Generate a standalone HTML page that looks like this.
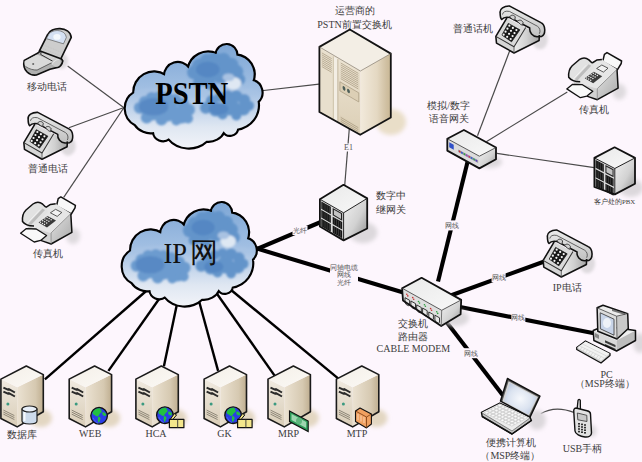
<!DOCTYPE html><html><head><meta charset="utf-8"><style>html,body{margin:0;padding:0;background:#fdf6fd;}svg{display:block}text{font-family:"Liberation Serif",serif;}</style></head><body>
<svg width="642" height="462" viewBox="0 0 642 462">
<defs>
<linearGradient id="cg" x1="0" y1="0" x2="0" y2="1"><stop offset="0" stop-color="#7ea7d6"/><stop offset="0.45" stop-color="#a3c0e3"/><stop offset="0.8" stop-color="#dfe7f2"/><stop offset="1" stop-color="#f1f3f8"/></linearGradient>
<radialGradient id="blob" cx="0.5" cy="0.5" r="0.5"><stop offset="0" stop-color="#4f86c2"/><stop offset="0.7" stop-color="#5b90c8"/><stop offset="1" stop-color="#6f9dd0" stop-opacity="0"/></radialGradient>
<filter id="sh" x="-50%" y="-50%" width="200%" height="200%"><feGaussianBlur stdDeviation="2"/></filter><filter id="shz" x="-50%" y="-50%" width="200%" height="200%"><feGaussianBlur stdDeviation="14"/></filter>
<filter id="blur1" x="-20%" y="-20%" width="140%" height="140%"><feGaussianBlur stdDeviation="1.2"/></filter>
<clipPath id="cclip"><path d="M132.5 92.0 A19.9 19.9 0 0 1 163.5 74.4 A13.1 13.1 0 0 1 187.5 67.2 A20.2 20.2 0 0 1 216.0 52.5 A10.0 10.0 0 0 1 236.0 53.6 A19.4 19.4 0 0 1 252.3 79.6 A12.2 12.2 0 0 1 257.5 100.4 A24.1 24.1 0 0 1 236.8 128.3 A7.4 7.4 0 0 1 223.1 130.9 A17.0 17.0 0 0 1 205.6 140.5 A26.4 26.4 0 0 1 167.4 138.0 A9.2 9.2 0 0 1 152.4 131.6 A18.3 18.3 0 0 1 133.6 123.8 A18.3 18.3 0 0 1 132.5 92.0Z"/></clipPath>
</defs>
<rect width="642" height="462" fill="#fdf6fd"/>
<line x1="67.6" y1="66.0" x2="124.0" y2="107.8" stroke="#4a4a4a" stroke-width="1.2"/>
<line x1="68.9" y1="127.7" x2="124.0" y2="107.5" stroke="#4a4a4a" stroke-width="1.2"/>
<line x1="63.7" y1="197.3" x2="124.0" y2="107.5" stroke="#4a4a4a" stroke-width="1.2"/>
<line x1="255.0" y1="91.5" x2="319.0" y2="84.2" stroke="#4a4a4a" stroke-width="1.2"/>
<line x1="350.0" y1="120.0" x2="344.5" y2="188.0" stroke="#4a4a4a" stroke-width="1.2"/>
<line x1="477.5" y1="135.8" x2="510.0" y2="50.0" stroke="#4a4a4a" stroke-width="1.2"/>
<line x1="486.3" y1="141.7" x2="567.3" y2="92.0" stroke="#4a4a4a" stroke-width="1.2"/>
<line x1="497.0" y1="153.4" x2="596.0" y2="167.8" stroke="#4a4a4a" stroke-width="1.2"/>
<line x1="250.0" y1="252.0" x2="322.0" y2="221.5" stroke="#000" stroke-width="4.1"/>
<line x1="250.0" y1="246.5" x2="405.0" y2="293.0" stroke="#000" stroke-width="4.1"/>
<line x1="438.0" y1="281.6" x2="468.5" y2="158.0" stroke="#000" stroke-width="4.1"/>
<line x1="450.0" y1="295.7" x2="545.0" y2="261.2" stroke="#000" stroke-width="4.1"/>
<line x1="455.0" y1="306.0" x2="594.0" y2="333.3" stroke="#000" stroke-width="4.1"/>
<line x1="445.0" y1="320.0" x2="503.0" y2="395.5" stroke="#000" stroke-width="4.1"/>
<line x1="147.3" y1="290.0" x2="44.9" y2="379.3" stroke="#000" stroke-width="2.4"/>
<line x1="165.4" y1="290.0" x2="108.4" y2="370.9" stroke="#000" stroke-width="2.4"/>
<line x1="179.9" y1="290.0" x2="163.9" y2="366.2" stroke="#000" stroke-width="2.4"/>
<line x1="196.0" y1="290.0" x2="218.1" y2="370.9" stroke="#000" stroke-width="2.4"/>
<line x1="214.3" y1="290.0" x2="274.6" y2="375.6" stroke="#000" stroke-width="2.4"/>
<line x1="231.1" y1="290.0" x2="338.1" y2="378.4" stroke="#000" stroke-width="2.4"/>
<path d="M540.7 413.8 Q555 405 574.5 412.6" fill="none" stroke="#4a4a4a" stroke-width="1.2"/>
<g transform="translate(0.0 0.0) translate(124 0) scale(1.000 1) translate(-124 0) translate(262 147) scale(0.9855 0.9806) translate(-262 -147)"><path d="M132.5 92.0 A19.9 19.9 0 0 1 163.5 74.4 A13.1 13.1 0 0 1 187.5 67.2 A20.2 20.2 0 0 1 216.0 52.5 A10.0 10.0 0 0 1 236.0 53.6 A19.4 19.4 0 0 1 252.3 79.6 A12.2 12.2 0 0 1 257.5 100.4 A24.1 24.1 0 0 1 236.8 128.3 A7.4 7.4 0 0 1 223.1 130.9 A17.0 17.0 0 0 1 205.6 140.5 A26.4 26.4 0 0 1 167.4 138.0 A9.2 9.2 0 0 1 152.4 131.6 A18.3 18.3 0 0 1 133.6 123.8 A18.3 18.3 0 0 1 132.5 92.0Z" fill="#000" stroke="#000" stroke-width="4.4" stroke-linejoin="round"/><path d="M132.5 92.0 A19.9 19.9 0 0 1 163.5 74.4 A13.1 13.1 0 0 1 187.5 67.2 A20.2 20.2 0 0 1 216.0 52.5 A10.0 10.0 0 0 1 236.0 53.6 A19.4 19.4 0 0 1 252.3 79.6 A12.2 12.2 0 0 1 257.5 100.4 A24.1 24.1 0 0 1 236.8 128.3 A7.4 7.4 0 0 1 223.1 130.9 A17.0 17.0 0 0 1 205.6 140.5 A26.4 26.4 0 0 1 167.4 138.0 A9.2 9.2 0 0 1 152.4 131.6 A18.3 18.3 0 0 1 133.6 123.8 A18.3 18.3 0 0 1 132.5 92.0Z" fill="url(#cg)"/><g clip-path="url(#cclip)" filter="url(#blur1)"><g fill="#a8c3e4" opacity="0.7"><ellipse cx="195" cy="91" rx="65" ry="5"/></g><g fill="#6c9bcf"><circle cx="138" cy="107" r="6"/><circle cx="143" cy="101" r="6"/><circle cx="150" cy="97" r="6"/><circle cx="158" cy="96" r="6"/><circle cx="166" cy="97" r="6"/><circle cx="174" cy="99" r="6"/><circle cx="182" cy="103" r="6"/><circle cx="188" cy="109" r="6"/><circle cx="150" cy="110" r="10"/><circle cx="166" cy="110" r="11"/><circle cx="180" cy="114" r="9"/><circle cx="145" cy="117" r="6"/><circle cx="160" cy="119" r="6"/><circle cx="175" cy="120" r="5"/><circle cx="187" cy="118" r="5"/></g><ellipse cx="152" cy="106" rx="15" ry="9" fill="#5889c4"/><g fill="#6394ca"><circle cx="193" cy="71" r="7"/><circle cx="198" cy="64" r="7"/><circle cx="206" cy="59" r="7"/><circle cx="214" cy="57" r="7"/><circle cx="223" cy="58" r="7"/><circle cx="231" cy="63" r="7"/><circle cx="236" cy="70" r="7"/><circle cx="239" cy="78" r="6"/><circle cx="205" cy="75" r="10"/><circle cx="220" cy="72" r="10"/><circle cx="197" cy="81" r="5"/><circle cx="210" cy="84" r="5"/></g><ellipse cx="207" cy="68" rx="12" ry="8" fill="#5587c3"/><ellipse cx="233" cy="82" rx="8" ry="6.5" fill="#dfe8f3"/><ellipse cx="228" cy="76" rx="6" ry="4" fill="#a9c2e2"/><g fill="#6394ca"><circle cx="205" cy="107" r="6"/><circle cx="211" cy="100" r="6"/><circle cx="219" cy="96" r="5"/><circle cx="227" cy="94" r="5"/><circle cx="236" cy="95" r="6"/><circle cx="244" cy="99" r="6"/><circle cx="249" cy="105" r="5"/><circle cx="215" cy="109" r="7"/><circle cx="230" cy="106" r="9"/><circle cx="243" cy="108" r="7"/><circle cx="222" cy="114" r="5"/><circle cx="236" cy="115" r="5"/></g><ellipse cx="218" cy="108" rx="10" ry="6" fill="#5587c3"/></g></g>
<g transform="translate(-3.0 158.0) translate(124 0) scale(0.980 1) translate(-124 0) translate(262 147) scale(0.9855 0.9806) translate(-262 -147)"><path d="M132.5 92.0 A19.9 19.9 0 0 1 163.5 74.4 A13.1 13.1 0 0 1 187.5 67.2 A20.2 20.2 0 0 1 216.0 52.5 A10.0 10.0 0 0 1 236.0 53.6 A19.4 19.4 0 0 1 252.3 79.6 A12.2 12.2 0 0 1 257.5 100.4 A24.1 24.1 0 0 1 236.8 128.3 A7.4 7.4 0 0 1 223.1 130.9 A17.0 17.0 0 0 1 205.6 140.5 A26.4 26.4 0 0 1 167.4 138.0 A9.2 9.2 0 0 1 152.4 131.6 A18.3 18.3 0 0 1 133.6 123.8 A18.3 18.3 0 0 1 132.5 92.0Z" fill="#000" stroke="#000" stroke-width="4.4" stroke-linejoin="round"/><path d="M132.5 92.0 A19.9 19.9 0 0 1 163.5 74.4 A13.1 13.1 0 0 1 187.5 67.2 A20.2 20.2 0 0 1 216.0 52.5 A10.0 10.0 0 0 1 236.0 53.6 A19.4 19.4 0 0 1 252.3 79.6 A12.2 12.2 0 0 1 257.5 100.4 A24.1 24.1 0 0 1 236.8 128.3 A7.4 7.4 0 0 1 223.1 130.9 A17.0 17.0 0 0 1 205.6 140.5 A26.4 26.4 0 0 1 167.4 138.0 A9.2 9.2 0 0 1 152.4 131.6 A18.3 18.3 0 0 1 133.6 123.8 A18.3 18.3 0 0 1 132.5 92.0Z" fill="url(#cg)"/><g clip-path="url(#cclip)" filter="url(#blur1)"><g fill="#a8c3e4" opacity="0.7"><ellipse cx="195" cy="91" rx="65" ry="5"/></g><g fill="#6c9bcf"><circle cx="138" cy="107" r="6"/><circle cx="143" cy="101" r="6"/><circle cx="150" cy="97" r="6"/><circle cx="158" cy="96" r="6"/><circle cx="166" cy="97" r="6"/><circle cx="174" cy="99" r="6"/><circle cx="182" cy="103" r="6"/><circle cx="188" cy="109" r="6"/><circle cx="150" cy="110" r="10"/><circle cx="166" cy="110" r="11"/><circle cx="180" cy="114" r="9"/><circle cx="145" cy="117" r="6"/><circle cx="160" cy="119" r="6"/><circle cx="175" cy="120" r="5"/><circle cx="187" cy="118" r="5"/></g><ellipse cx="152" cy="106" rx="15" ry="9" fill="#5889c4"/><g fill="#6394ca"><circle cx="193" cy="71" r="7"/><circle cx="198" cy="64" r="7"/><circle cx="206" cy="59" r="7"/><circle cx="214" cy="57" r="7"/><circle cx="223" cy="58" r="7"/><circle cx="231" cy="63" r="7"/><circle cx="236" cy="70" r="7"/><circle cx="239" cy="78" r="6"/><circle cx="205" cy="75" r="10"/><circle cx="220" cy="72" r="10"/><circle cx="197" cy="81" r="5"/><circle cx="210" cy="84" r="5"/></g><ellipse cx="207" cy="68" rx="12" ry="8" fill="#5587c3"/><ellipse cx="233" cy="82" rx="8" ry="6.5" fill="#dfe8f3"/><ellipse cx="228" cy="76" rx="6" ry="4" fill="#a9c2e2"/><g fill="#6394ca"><circle cx="205" cy="107" r="6"/><circle cx="211" cy="100" r="6"/><circle cx="219" cy="96" r="5"/><circle cx="227" cy="94" r="5"/><circle cx="236" cy="95" r="6"/><circle cx="244" cy="99" r="6"/><circle cx="249" cy="105" r="5"/><circle cx="215" cy="109" r="7"/><circle cx="230" cy="106" r="9"/><circle cx="243" cy="108" r="7"/><circle cx="222" cy="114" r="5"/><circle cx="236" cy="115" r="5"/></g><ellipse cx="218" cy="108" rx="10" ry="6" fill="#5587c3"/></g></g>
<text x="155.2" y="104" font-size="31" font-weight="bold" textLength="73" lengthAdjust="spacingAndGlyphs" fill="#000">PSTN</text>
<text x="163.5" y="263" font-size="30" textLength="23.5" lengthAdjust="spacingAndGlyphs" fill="#111">IP</text>
<text x="190.2" y="262" font-size="28" fill="#111">网</text>
<defs><linearGradient id="srvside" x1="0" y1="0" x2="1" y2="0"><stop offset="0" stop-color="#ebe2d2"/><stop offset="0.7" stop-color="#d6c9b1"/><stop offset="1" stop-color="#bfae90"/></linearGradient><linearGradient id="srvfront" x1="0" y1="0" x2="0" y2="1"><stop offset="0" stop-color="#f0eae0"/><stop offset="1" stop-color="#d9cdb7"/></linearGradient><linearGradient id="srvtop" x1="0" y1="0" x2="1" y2="1"><stop offset="0" stop-color="#f4efe8"/><stop offset="1" stop-color="#fbf9f5"/></linearGradient></defs>
<g transform="translate(0.9 379.1)"><ellipse cx="40" cy="39" rx="11" ry="9" fill="#e3d7c2" filter="url(#sh)"/><polygon points="16.3,8.1 42.4,-4.5 42.4,32.6 16.3,47.8" fill="url(#srvside)"/><polygon points="0.0,0.0 16.3,8.1 16.3,47.8 0.0,39.4" fill="url(#srvfront)"/><polygon points="0.0,0.0 25.4,-13.1 42.4,-4.5 16.3,8.1" fill="url(#srvtop)"/><polygon points="0.0,0.0 25.4,-13.1 42.4,-4.5 42.4,32.6 16.3,47.8 0.0,39.4" fill="none" stroke="#1a1a1a" stroke-width="1.6" stroke-linejoin="round"/><path d="M2.5 8.6 L7 10.6 L8 10 L14 13.4 M2.5 12.6 L7 14.6 L8 14 L14 17.4" fill="none" stroke="#2a2a2a" stroke-width="2"/><circle cx="7" cy="25" r="1.5" fill="#3a9a80"/><path d="M2.5 31 L13.5 36.5 M2.5 33 L13.5 38.5 M2.5 35 L13.5 40.5" stroke="#6a6458" stroke-width="0.7"/></g>
<g transform="translate(69.2 379.1)"><ellipse cx="40" cy="39" rx="11" ry="9" fill="#e3d7c2" filter="url(#sh)"/><polygon points="16.3,8.1 42.4,-4.5 42.4,32.6 16.3,47.8" fill="url(#srvside)"/><polygon points="0.0,0.0 16.3,8.1 16.3,47.8 0.0,39.4" fill="url(#srvfront)"/><polygon points="0.0,0.0 25.4,-13.1 42.4,-4.5 16.3,8.1" fill="url(#srvtop)"/><polygon points="0.0,0.0 25.4,-13.1 42.4,-4.5 42.4,32.6 16.3,47.8 0.0,39.4" fill="none" stroke="#1a1a1a" stroke-width="1.6" stroke-linejoin="round"/><path d="M2.5 8.6 L7 10.6 L8 10 L14 13.4 M2.5 12.6 L7 14.6 L8 14 L14 17.4" fill="none" stroke="#2a2a2a" stroke-width="2"/><circle cx="7" cy="25" r="1.5" fill="#3a9a80"/><path d="M2.5 31 L13.5 36.5 M2.5 33 L13.5 38.5 M2.5 35 L13.5 40.5" stroke="#6a6458" stroke-width="0.7"/></g>
<g transform="translate(135.9 379.1)"><ellipse cx="40" cy="39" rx="11" ry="9" fill="#e3d7c2" filter="url(#sh)"/><polygon points="16.3,8.1 42.4,-4.5 42.4,32.6 16.3,47.8" fill="url(#srvside)"/><polygon points="0.0,0.0 16.3,8.1 16.3,47.8 0.0,39.4" fill="url(#srvfront)"/><polygon points="0.0,0.0 25.4,-13.1 42.4,-4.5 16.3,8.1" fill="url(#srvtop)"/><polygon points="0.0,0.0 25.4,-13.1 42.4,-4.5 42.4,32.6 16.3,47.8 0.0,39.4" fill="none" stroke="#1a1a1a" stroke-width="1.6" stroke-linejoin="round"/><path d="M2.5 8.6 L7 10.6 L8 10 L14 13.4 M2.5 12.6 L7 14.6 L8 14 L14 17.4" fill="none" stroke="#2a2a2a" stroke-width="2"/><circle cx="7" cy="25" r="1.5" fill="#3a9a80"/><path d="M2.5 31 L13.5 36.5 M2.5 33 L13.5 38.5 M2.5 35 L13.5 40.5" stroke="#6a6458" stroke-width="0.7"/></g>
<g transform="translate(204.1 379.1)"><ellipse cx="40" cy="39" rx="11" ry="9" fill="#e3d7c2" filter="url(#sh)"/><polygon points="16.3,8.1 42.4,-4.5 42.4,32.6 16.3,47.8" fill="url(#srvside)"/><polygon points="0.0,0.0 16.3,8.1 16.3,47.8 0.0,39.4" fill="url(#srvfront)"/><polygon points="0.0,0.0 25.4,-13.1 42.4,-4.5 16.3,8.1" fill="url(#srvtop)"/><polygon points="0.0,0.0 25.4,-13.1 42.4,-4.5 42.4,32.6 16.3,47.8 0.0,39.4" fill="none" stroke="#1a1a1a" stroke-width="1.6" stroke-linejoin="round"/><path d="M2.5 8.6 L7 10.6 L8 10 L14 13.4 M2.5 12.6 L7 14.6 L8 14 L14 17.4" fill="none" stroke="#2a2a2a" stroke-width="2"/><circle cx="7" cy="25" r="1.5" fill="#3a9a80"/><path d="M2.5 31 L13.5 36.5 M2.5 33 L13.5 38.5 M2.5 35 L13.5 40.5" stroke="#6a6458" stroke-width="0.7"/></g>
<g transform="translate(268.0 379.1)"><ellipse cx="40" cy="39" rx="11" ry="9" fill="#e3d7c2" filter="url(#sh)"/><polygon points="16.3,8.1 42.4,-4.5 42.4,32.6 16.3,47.8" fill="url(#srvside)"/><polygon points="0.0,0.0 16.3,8.1 16.3,47.8 0.0,39.4" fill="url(#srvfront)"/><polygon points="0.0,0.0 25.4,-13.1 42.4,-4.5 16.3,8.1" fill="url(#srvtop)"/><polygon points="0.0,0.0 25.4,-13.1 42.4,-4.5 42.4,32.6 16.3,47.8 0.0,39.4" fill="none" stroke="#1a1a1a" stroke-width="1.6" stroke-linejoin="round"/><path d="M2.5 8.6 L7 10.6 L8 10 L14 13.4 M2.5 12.6 L7 14.6 L8 14 L14 17.4" fill="none" stroke="#2a2a2a" stroke-width="2"/><circle cx="7" cy="25" r="1.5" fill="#3a9a80"/><path d="M2.5 31 L13.5 36.5 M2.5 33 L13.5 38.5 M2.5 35 L13.5 40.5" stroke="#6a6458" stroke-width="0.7"/></g>
<g transform="translate(336.4 379.1)"><ellipse cx="40" cy="39" rx="11" ry="9" fill="#e3d7c2" filter="url(#sh)"/><polygon points="16.3,8.1 42.4,-4.5 42.4,32.6 16.3,47.8" fill="url(#srvside)"/><polygon points="0.0,0.0 16.3,8.1 16.3,47.8 0.0,39.4" fill="url(#srvfront)"/><polygon points="0.0,0.0 25.4,-13.1 42.4,-4.5 16.3,8.1" fill="url(#srvtop)"/><polygon points="0.0,0.0 25.4,-13.1 42.4,-4.5 42.4,32.6 16.3,47.8 0.0,39.4" fill="none" stroke="#1a1a1a" stroke-width="1.6" stroke-linejoin="round"/><path d="M2.5 8.6 L7 10.6 L8 10 L14 13.4 M2.5 12.6 L7 14.6 L8 14 L14 17.4" fill="none" stroke="#2a2a2a" stroke-width="2"/><circle cx="7" cy="25" r="1.5" fill="#3a9a80"/><path d="M2.5 31 L13.5 36.5 M2.5 33 L13.5 38.5 M2.5 35 L13.5 40.5" stroke="#6a6458" stroke-width="0.7"/></g>
<defs><linearGradient id="cabside" x1="0" y1="0" x2="1" y2="0"><stop offset="0" stop-color="#f2eadc"/><stop offset="0.55" stop-color="#e4d8c2"/><stop offset="0.85" stop-color="#d0c0a2"/><stop offset="1" stop-color="#c9b794"/></linearGradient><linearGradient id="cabfront" x1="0" y1="0" x2="0" y2="1"><stop offset="0" stop-color="#eee6d6"/><stop offset="1" stop-color="#dccfb6"/></linearGradient><linearGradient id="gside" x1="0" y1="0" x2="1" y2="1"><stop offset="0" stop-color="#f2f2f2"/><stop offset="0.55" stop-color="#d2d2d2"/><stop offset="1" stop-color="#8e8e8e"/></linearGradient><linearGradient id="gtop" x1="0" y1="0" x2="1" y2="1"><stop offset="0" stop-color="#e9e9e9"/><stop offset="1" stop-color="#f8f8f8"/></linearGradient><linearGradient id="gfront" x1="0" y1="0" x2="0" y2="1"><stop offset="0" stop-color="#e4e4e4"/><stop offset="1" stop-color="#c8c8c8"/></linearGradient></defs>
<ellipse cx="391" cy="122" rx="15" ry="13" fill="#e9dec8" filter="url(#sh)"/>
<polygon points="360.4,71.0 390.8,53.6 390.8,117.5 360.2,134.8" fill="url(#cabside)"/>
<polygon points="319.4,46.9 360.4,71.0 360.2,134.8 319.4,112.0" fill="url(#cabfront)"/>
<polygon points="319.4,46.9 349.8,29.5 390.8,53.6 360.4,71.0" fill="#f3eee5"/>
<g transform="matrix(0.4100 0.2410 0.0000 0.6510 319.40 46.90)"><rect x="2" y="2" width="32" height="96" fill="#e8dfcd"/><line x1="6" y1="7.0" x2="30" y2="7.0" stroke="#ad9f86" stroke-width="0.8" vector-effect="non-scaling-stroke"/><line x1="6" y1="10.0" x2="30" y2="10.0" stroke="#ad9f86" stroke-width="0.8" vector-effect="non-scaling-stroke"/><line x1="6" y1="13.0" x2="30" y2="13.0" stroke="#ad9f86" stroke-width="0.8" vector-effect="non-scaling-stroke"/><line x1="6" y1="16.0" x2="30" y2="16.0" stroke="#ad9f86" stroke-width="0.8" vector-effect="non-scaling-stroke"/><line x1="6" y1="19.0" x2="30" y2="19.0" stroke="#ad9f86" stroke-width="0.8" vector-effect="non-scaling-stroke"/><line x1="6" y1="22.0" x2="30" y2="22.0" stroke="#ad9f86" stroke-width="0.8" vector-effect="non-scaling-stroke"/><line x1="6" y1="25.0" x2="30" y2="25.0" stroke="#ad9f86" stroke-width="0.8" vector-effect="non-scaling-stroke"/><line x1="6" y1="28.0" x2="30" y2="28.0" stroke="#ad9f86" stroke-width="0.8" vector-effect="non-scaling-stroke"/><rect x="34" y="2" width="11" height="96" fill="#f3eee4"/><line x1="45" y1="2" x2="45" y2="98" stroke="#b9ab90" stroke-width="0.8" vector-effect="non-scaling-stroke"/><line x1="34" y1="2" x2="34" y2="98" stroke="#c4b79c" stroke-width="0.8" vector-effect="non-scaling-stroke"/><line x1="52" y1="5.5" x2="95" y2="5.5" stroke="#ad9f86" stroke-width="0.8" vector-effect="non-scaling-stroke"/><line x1="52" y1="8.5" x2="95" y2="8.5" stroke="#ad9f86" stroke-width="0.8" vector-effect="non-scaling-stroke"/><line x1="52" y1="11.5" x2="95" y2="11.5" stroke="#ad9f86" stroke-width="0.8" vector-effect="non-scaling-stroke"/><line x1="52" y1="14.5" x2="95" y2="14.5" stroke="#ad9f86" stroke-width="0.8" vector-effect="non-scaling-stroke"/><line x1="52" y1="17.5" x2="95" y2="17.5" stroke="#ad9f86" stroke-width="0.8" vector-effect="non-scaling-stroke"/><line x1="52" y1="20.5" x2="95" y2="20.5" stroke="#ad9f86" stroke-width="0.8" vector-effect="non-scaling-stroke"/><line x1="52" y1="23.5" x2="95" y2="23.5" stroke="#ad9f86" stroke-width="0.8" vector-effect="non-scaling-stroke"/><line x1="52" y1="26.5" x2="95" y2="26.5" stroke="#ad9f86" stroke-width="0.8" vector-effect="non-scaling-stroke"/><line x1="52" y1="29.5" x2="95" y2="29.5" stroke="#ad9f86" stroke-width="0.8" vector-effect="non-scaling-stroke"/><rect x="50" y="35" width="46" height="14" fill="#dccfb5" stroke="#a89a80" stroke-width="0.7" vector-effect="non-scaling-stroke"/><ellipse cx="60" cy="41.5" rx="3.5" ry="3.2" fill="#4d5e58"/><ellipse cx="71" cy="41.5" rx="3.5" ry="3.2" fill="#4d5e58"/><rect x="50" y="86" width="46" height="12" fill="#ddd1b9"/><line x1="52" y1="89.0" x2="95" y2="89.0" stroke="#a39479" stroke-width="0.7" vector-effect="non-scaling-stroke"/><line x1="52" y1="92.0" x2="95" y2="92.0" stroke="#a39479" stroke-width="0.7" vector-effect="non-scaling-stroke"/><line x1="52" y1="95.0" x2="95" y2="95.0" stroke="#a39479" stroke-width="0.7" vector-effect="non-scaling-stroke"/></g>
<polygon points="319.4,46.9 349.8,29.5 390.8,53.6 390.8,117.5 360.2,134.8 319.4,112.0" fill="none" stroke="#141414" stroke-width="1.8" stroke-linejoin="round"/>
<polyline points="319.4,46.9 360.4,71.0 390.8,53.6" fill="none" stroke="#6e6554" stroke-width="0.6"/>
<ellipse cx="363.2" cy="232.5" rx="14.2" ry="10.5" fill="#dcd8dc" filter="url(#sh)"/>
<polygon points="343.6,212.8 367.2,198.4 367.2,228.5 343.6,240.4" fill="url(#gside)"/>
<polygon points="319.9,199.2 343.6,212.8 343.6,240.4 319.9,226.5" fill="#d9d9d9"/>
<polygon points="319.9,199.2 343.5,184.8 367.2,198.4 343.6,212.8" fill="url(#gtop)"/>
<g transform="matrix(0.2370 0.1360 0.0000 0.2730 319.90 199.20)"><rect x="6" y="5" width="40" height="27" fill="#141414"/><rect x="11" y="7" width="3" height="23" fill="#484848"/><rect x="20" y="7" width="3" height="23" fill="#484848"/><rect x="29" y="7" width="3" height="23" fill="#484848"/><rect x="38" y="7" width="3" height="23" fill="#484848"/><rect x="6" y="37" width="40" height="27" fill="#141414"/><rect x="11" y="39" width="3" height="23" fill="#484848"/><rect x="20" y="39" width="3" height="23" fill="#484848"/><rect x="29" y="39" width="3" height="23" fill="#484848"/><rect x="38" y="39" width="3" height="23" fill="#484848"/><rect x="6" y="69" width="40" height="27" fill="#141414"/><rect x="11" y="71" width="3" height="23" fill="#484848"/><rect x="20" y="71" width="3" height="23" fill="#484848"/><rect x="29" y="71" width="3" height="23" fill="#484848"/><rect x="38" y="71" width="3" height="23" fill="#484848"/><rect x="54" y="5" width="40" height="27" fill="#202020"/><rect x="59" y="9" width="30" height="19" fill="#c4c4c4"/><rect x="54" y="37" width="40" height="27" fill="#141414"/><rect x="59" y="39" width="3" height="23" fill="#484848"/><rect x="68" y="39" width="3" height="23" fill="#484848"/><rect x="77" y="39" width="3" height="23" fill="#484848"/><rect x="86" y="39" width="3" height="23" fill="#484848"/><rect x="54" y="69" width="40" height="27" fill="#141414"/><rect x="59" y="71" width="3" height="23" fill="#484848"/><rect x="68" y="71" width="3" height="23" fill="#484848"/><rect x="77" y="71" width="3" height="23" fill="#484848"/><rect x="86" y="71" width="3" height="23" fill="#484848"/></g>
<polygon points="319.9,199.2 343.5,184.8 367.2,198.4 367.2,228.5 343.6,240.4 319.9,226.5" fill="none" stroke="#111" stroke-width="1.8" stroke-linejoin="round"/>
<polyline points="319.9,199.2 343.6,212.8 367.2,198.4" fill="none" stroke="#222" stroke-width="1"/>
<line x1="343.6" y1="212.8" x2="343.6" y2="240.4" stroke="#222" stroke-width="1"/>
<ellipse cx="631.0" cy="187.8" rx="12.2" ry="9.1" fill="#dcd8dc" filter="url(#sh)"/>
<polygon points="614.8,168.5 635.0,157.9 635.0,183.8 614.8,194.4" fill="url(#gside)"/>
<polygon points="594.4,157.9 614.8,168.5 614.8,194.4 594.4,187.0" fill="#d9d9d9"/>
<polygon points="594.4,157.9 614.6,147.3 635.0,157.9 614.8,168.5" fill="url(#gtop)"/>
<g transform="matrix(0.2040 0.1060 0.0000 0.2910 594.40 157.90)"><rect x="6" y="5" width="40" height="27" fill="#141414"/><rect x="11" y="7" width="3" height="23" fill="#484848"/><rect x="20" y="7" width="3" height="23" fill="#484848"/><rect x="29" y="7" width="3" height="23" fill="#484848"/><rect x="38" y="7" width="3" height="23" fill="#484848"/><rect x="6" y="37" width="40" height="27" fill="#141414"/><rect x="11" y="39" width="3" height="23" fill="#484848"/><rect x="20" y="39" width="3" height="23" fill="#484848"/><rect x="29" y="39" width="3" height="23" fill="#484848"/><rect x="38" y="39" width="3" height="23" fill="#484848"/><rect x="6" y="69" width="40" height="27" fill="#141414"/><rect x="11" y="71" width="3" height="23" fill="#484848"/><rect x="20" y="71" width="3" height="23" fill="#484848"/><rect x="29" y="71" width="3" height="23" fill="#484848"/><rect x="38" y="71" width="3" height="23" fill="#484848"/><rect x="54" y="5" width="40" height="27" fill="#202020"/><rect x="59" y="9" width="30" height="19" fill="#c4c4c4"/><rect x="54" y="37" width="40" height="27" fill="#141414"/><rect x="59" y="39" width="3" height="23" fill="#484848"/><rect x="68" y="39" width="3" height="23" fill="#484848"/><rect x="77" y="39" width="3" height="23" fill="#484848"/><rect x="86" y="39" width="3" height="23" fill="#484848"/><rect x="54" y="69" width="40" height="27" fill="#141414"/><rect x="59" y="71" width="3" height="23" fill="#484848"/><rect x="68" y="71" width="3" height="23" fill="#484848"/><rect x="77" y="71" width="3" height="23" fill="#484848"/><rect x="86" y="71" width="3" height="23" fill="#484848"/></g>
<polygon points="594.4,157.9 614.6,147.3 635.0,157.9 635.0,183.8 614.8,194.4 594.4,187.0" fill="none" stroke="#111" stroke-width="1.8" stroke-linejoin="round"/>
<polyline points="594.4,157.9 614.8,168.5 635.0,157.9" fill="none" stroke="#222" stroke-width="1"/>
<line x1="614.8" y1="168.5" x2="614.8" y2="194.4" stroke="#222" stroke-width="1"/>
<ellipse cx="490" cy="162" rx="12" ry="6" fill="#dcd8dc" filter="url(#sh)"/>
<polygon points="479.4,156.2 496.0,147.5 496.0,159.3 479.4,168.4" fill="url(#gside)"/>
<polygon points="447.3,138.7 479.4,156.2 479.4,168.4 447.3,150.6" fill="#dcdcdc"/>
<polygon points="447.3,138.7 463.9,130.0 496.0,147.5 479.4,156.2" fill="url(#gtop)"/>
<g transform="matrix(0.3210 0.1750 0.0000 0.1190 447.30 138.70)"><rect x="6" y="22" width="14" height="42" fill="#3050c8"/><rect x="34" y="40" width="62" height="22" fill="#9a9aa8"/><rect x="36" y="44" width="5" height="14" fill="#d23030"/><rect x="43" y="44" width="5" height="14" fill="#3050d0"/><rect x="51" y="44" width="5" height="14" fill="#30a040"/><rect x="58" y="44" width="5" height="14" fill="#a040c0"/><rect x="66" y="44" width="5" height="14" fill="#d03060"/><rect x="73" y="44" width="5" height="14" fill="#3060d0"/><rect x="81" y="44" width="5" height="14" fill="#30a060"/><rect x="88" y="44" width="5" height="14" fill="#6040c0"/></g>
<polygon points="447.3,138.7 463.9,130.0 496.0,147.5 496.0,159.3 479.4,168.4 447.3,150.6" fill="none" stroke="#111" stroke-width="1.8" stroke-linejoin="round"/>
<polyline points="447.3,138.7 479.4,156.2 496.0,147.5" fill="none" stroke="#333" stroke-width="0.8"/>
<ellipse cx="456" cy="318" rx="13" ry="8" fill="#dcd8dc" filter="url(#sh)"/>
<polygon points="441.7,310.3 461.2,299.9 460.6,314.2 441.2,326.0" fill="url(#gside)"/>
<polygon points="402.1,288.2 441.7,310.3 441.2,326.0 403.0,300.5" fill="#dedede"/>
<polygon points="402.1,288.2 421.6,277.8 461.2,299.9 441.7,310.3" fill="url(#gtop)"/>
<path d="M405.0 297.7 l4.6 2.6 l0 4.6 l-1.2 0.8 l-2.2 -1.2 l-1.2 -2 Z" fill="#e8e8e8" stroke="#222" stroke-width="0.9"/>
<circle cx="406.8" cy="294.3" r="0.8" fill="#c83030"/><circle cx="407.8" cy="295.9" r="0.8" fill="#c83030"/>
<path d="M410.9 301.0 l4.6 2.6 l0 4.6 l-1.2 0.8 l-2.2 -1.2 l-1.2 -2 Z" fill="#e8e8e8" stroke="#222" stroke-width="0.9"/>
<circle cx="412.7" cy="297.6" r="0.8" fill="#c83030"/><circle cx="413.7" cy="299.2" r="0.8" fill="#c83030"/>
<path d="M416.7 304.9 l4.6 2.6 l0 4.6 l-1.2 0.8 l-2.2 -1.2 l-1.2 -2 Z" fill="#e8e8e8" stroke="#222" stroke-width="0.9"/>
<circle cx="418.5" cy="301.5" r="0.8" fill="#30a040"/><circle cx="419.5" cy="303.1" r="0.8" fill="#30a040"/>
<path d="M422.6 308.1 l4.6 2.6 l0 4.6 l-1.2 0.8 l-2.2 -1.2 l-1.2 -2 Z" fill="#e8e8e8" stroke="#222" stroke-width="0.9"/>
<circle cx="424.4" cy="304.7" r="0.8" fill="#30a040"/><circle cx="425.4" cy="306.3" r="0.8" fill="#30a040"/>
<path d="M428.8 312.0 l4.6 2.6 l0 4.6 l-1.2 0.8 l-2.2 -1.2 l-1.2 -2 Z" fill="#e8e8e8" stroke="#222" stroke-width="0.9"/>
<circle cx="430.6" cy="308.6" r="0.8" fill="#c83030"/><circle cx="431.6" cy="310.2" r="0.8" fill="#c83030"/>
<path d="M434.9 315.2 l4.6 2.6 l0 4.6 l-1.2 0.8 l-2.2 -1.2 l-1.2 -2 Z" fill="#e8e8e8" stroke="#222" stroke-width="0.9"/>
<circle cx="436.7" cy="311.8" r="0.8" fill="#30a040"/><circle cx="437.7" cy="313.4" r="0.8" fill="#30a040"/>
<polygon points="402.1,288.2 421.6,277.8 461.2,299.9 460.6,314.2 441.2,326.0 403.0,300.5" fill="none" stroke="#111" stroke-width="1.8" stroke-linejoin="round"/>
<polyline points="402.1,288.2 441.7,310.3 461.2,299.9" fill="none" stroke="#333" stroke-width="0.8"/>
<line x1="441.7" y1="310.3" x2="441.2" y2="326.0" stroke="#555" stroke-width="0.8"/>
<defs><linearGradient id="phr" x1="0" y1="0" x2="1" y2="0"><stop offset="0" stop-color="#ececec"/><stop offset="0.5" stop-color="#d0d0d0"/><stop offset="1" stop-color="#a4a4a4"/></linearGradient><linearGradient id="phh" x1="0" y1="0" x2="0" y2="1"><stop offset="0" stop-color="#ececec"/><stop offset="1" stop-color="#c0c0c0"/></linearGradient><g id="deskphone"><ellipse cx="385" cy="315" rx="60" ry="75" fill="#dedade" filter="url(#shz)"/><path d="M185 370 L270 220 L380 275 L378 322 L185 418 Z" fill="url(#phr)"/><path d="M45 290 L185 370 L185 418 L50 342 Z" fill="#d6d6d6"/><path d="M130 148 L275 222 L185 370 L45 290 Z" fill="#d9d9d9"/><path d="M78 110 C72 78 108 55 152 57 L392 184 C428 200 432 272 398 290 L362 293 C328 290 302 262 306 226 L152 145 C122 138 98 150 90 160 C80 150 78 130 78 110 Z" fill="url(#phh)" stroke="#111" stroke-width="12" stroke-linejoin="round"/><path d="M96 122 C100 100 120 92 150 98 L365 212 C385 224 390 252 380 270" fill="none" stroke="#555" stroke-width="7"/><path d="M150 140 C165 120 185 125 195 140 L190 165 L175 160 Z M210 175 C225 158 245 165 255 182 L250 205 L235 198 Z" fill="#d0d0d0" stroke="#333" stroke-width="7" stroke-linejoin="round"/><path d="M141 190 L230 240 L166 332 L92 280 Z" fill="#181818" stroke="#181818" stroke-width="6" stroke-linejoin="round"/><circle cx="149.0" cy="208.0" r="8.5" fill="#f6f6f6"/><circle cx="134.4" cy="231.0" r="8.5" fill="#f6f6f6"/><circle cx="119.8" cy="254.0" r="8.5" fill="#f6f6f6"/><circle cx="105.2" cy="277.0" r="8.5" fill="#f6f6f6"/><circle cx="176.1" cy="224.7" r="8.5" fill="#f6f6f6"/><circle cx="161.5" cy="247.7" r="8.5" fill="#f6f6f6"/><circle cx="146.9" cy="270.7" r="8.5" fill="#f6f6f6"/><circle cx="132.3" cy="293.7" r="8.5" fill="#f6f6f6"/><circle cx="203.2" cy="241.4" r="8.5" fill="#f6f6f6"/><circle cx="188.6" cy="264.4" r="8.5" fill="#f6f6f6"/><circle cx="174.0" cy="287.4" r="8.5" fill="#f6f6f6"/><circle cx="159.4" cy="310.4" r="8.5" fill="#f6f6f6"/><path d="M130 148 L45 290 L50 342 L185 418 L378 322 L380 280" fill="none" stroke="#111" stroke-width="12" stroke-linejoin="round"/><path d="M45 290 L185 370 L275 222" fill="none" stroke="#333" stroke-width="8" stroke-linejoin="round"/><path d="M185 370 L185 418" fill="none" stroke="#444" stroke-width="6"/></g></defs>
<use href="#deskphone" transform="translate(18.0 105.0) scale(0.12987)"/>
<use href="#deskphone" transform="translate(490.0 -1.3) scale(0.12987)"/>
<use href="#deskphone" transform="translate(537.3 222.7) scale(0.12987)"/>
<defs><linearGradient id="faxr" x1="0" y1="0" x2="1" y2="1"><stop offset="0" stop-color="#e2e2e2"/><stop offset="1" stop-color="#a9a9a9"/></linearGradient><g id="fax"><ellipse cx="73" cy="236" rx="7" ry="8" fill="#dedade" filter="url(#sh)"/><path d="M56.5 206 L58.2 198.6 L60.8 196.9 L75.4 205.3 L75 207.8 L71.3 214 Z" fill="#f8f8f8" stroke="#111" stroke-width="1.5" stroke-linejoin="round"/><path d="M70.8 213.6 L71.9 232.4 L51.1 244 L51.1 232.9 Z" fill="url(#faxr)"/><path d="M45.9 207.3 L50.5 204.4 L55.7 203.7 L70.8 213.6 L51.1 232.9 L27 225.8 Z" fill="#e6e6e6"/><path d="M27 225.8 L51.1 232.9 L51.1 244 L31 235 Z" fill="#d2d2d2"/><path d="M22.5 221.5 C22 216 23 213 26 210 L33 204 C36 202 40 202 42.7 204.2 L45.9 207.3 L48 212 L34 226 C29 226 25 225 22.5 221.5 Z" fill="#e2e2e2"/><path d="M28.5 223.5 L42.5 208.5 L45 210 L31 225 Z" fill="#bdbdbd"/><path d="M26 224.5 L40 209.5" stroke="#f2f2f2" stroke-width="1"/><path d="M34 226 C29 226 25 225 22.5 221.5 C22 216 23 213 26 210 L33 204 C36 202 40 202 42.7 204.2 L45.9 207.3" fill="none" stroke="#111" stroke-width="1.5" stroke-linejoin="round"/><path d="M20.6 233.2 L26.4 228.6 L36.2 229 L46.6 235.5 L40.7 240.4 L34.2 242 Z" fill="#f9f9f9" stroke="#111" stroke-width="1.3" stroke-linejoin="round"/><path d="M50.4 212.8 L55.6 209.3 L61.8 212.5 L57.2 216.4 Z" fill="#f2f2f2" stroke="#333" stroke-width="0.8"/><path d="M38.5 222.5 L47.5 216 L56 220.5 L47 227.5 Z" fill="#3a3a3a"/><circle cx="40.5" cy="222.3" r="0.75" fill="#f0f0f0"/><circle cx="42.5" cy="223.4" r="0.75" fill="#f0f0f0"/><circle cx="44.5" cy="224.5" r="0.75" fill="#f0f0f0"/><circle cx="42.7" cy="220.7" r="0.75" fill="#f0f0f0"/><circle cx="44.7" cy="221.8" r="0.75" fill="#f0f0f0"/><circle cx="46.7" cy="222.9" r="0.75" fill="#f0f0f0"/><circle cx="44.9" cy="219.1" r="0.75" fill="#f0f0f0"/><circle cx="46.9" cy="220.2" r="0.75" fill="#f0f0f0"/><circle cx="48.9" cy="221.3" r="0.75" fill="#f0f0f0"/><circle cx="47.1" cy="217.5" r="0.75" fill="#f0f0f0"/><circle cx="49.1" cy="218.6" r="0.75" fill="#f0f0f0"/><circle cx="51.1" cy="219.7" r="0.75" fill="#f0f0f0"/><path d="M45.9 207.3 L50.5 204.4 L55.7 203.7 M70.8 213.6 L71.9 232.4 L51.1 244 L40.7 240.4" fill="none" stroke="#111" stroke-width="1.5" stroke-linejoin="round"/><path d="M51.1 232.9 L70.8 213.6 M51.1 232.9 L51.1 244" fill="none" stroke="#777" stroke-width="0.7"/></g></defs>
<use href="#fax"/>
<use href="#fax" transform="translate(546.2 -144.3)"/>
<g transform="translate(18 22) scale(0.12987)"><ellipse cx="335" cy="300" rx="50" ry="60" fill="#dedade" filter="url(#shz)"/><path d="M48 296 L147 243 L180 216 L330 276 L345 300 C340 330 320 345 313 347 L246 364 L142 408 C110 412 90 405 70 385 C50 365 40 330 48 296 Z" fill="#b0b0b0" stroke="#111" stroke-width="13" stroke-linejoin="round"/><path d="M52 300 L147 250 L275 305 L147 368 C110 370 75 360 57 340 C50 325 48 310 52 300 Z" fill="#dadada"/><path d="M57 342 C90 365 120 370 147 370 L257 315" fill="none" stroke="#333" stroke-width="5"/><circle cx="117" cy="323" r="8" fill="#666"/><path d="M180 216 L328 274 L285 312 L175 250 Z" fill="#d2d2d2" stroke="#222" stroke-width="7" stroke-linejoin="round"/><circle cx="295" cy="312" r="32" fill="#cacaca"/><path d="M263 330 C270 300 300 285 320 290" fill="none" stroke="#f0f0f0" stroke-width="6"/><path d="M165 222 L228 98 C250 35 400 30 410 118 L330 283 Z" fill="#cdcdcd" stroke="#111" stroke-width="13" stroke-linejoin="round"/><path d="M230 108 C250 50 365 50 372 120 L350 168 L218 128 Z" fill="#d4e0f2" stroke="#555" stroke-width="5" stroke-linejoin="round"/><ellipse cx="300" cy="115" rx="28" ry="22" fill="#f4f8fc"/><path d="M205 180 L330 232 M195 205 L320 258" stroke="#bcbcbc" stroke-width="4" stroke-dasharray="8 6"/></g>
<g><ellipse cx="640" cy="343" rx="7" ry="10" fill="#dcd8dc" filter="url(#sh)"/><path d="M593.2 330.5 L604 326 L635.5 330.5 L616.6 340.6 Z" fill="#efefef"/><path d="M593.2 330.5 L616.6 340.6 L616.6 351 L593.9 340.5 Z" fill="#d9d9d9"/><path d="M616.6 340.6 L635.5 330.5 L635.5 340.5 L616.6 351 Z" fill="#bdbdbd"/><path d="M605 340.3 L615.5 345 L615.5 347.2 L605 342.5 Z" fill="#3a3a3a"/><path d="M605 344 L615.5 348.7 L615.5 350.3 L605 345.6 Z" fill="#3a3a3a"/><path d="M595 333 L599 335 L599 339 L595 337 Z" fill="#888"/><path d="M593.2 330.5 L604 326 L635.5 330.5 L635.5 340.5 L616.6 351 L593.9 340.5 Z" fill="none" stroke="#111" stroke-width="1.5" stroke-linejoin="round"/><path d="M603 305.2 L627.7 313.6 L616.6 316.2 L597.1 307.8 Z" fill="#ececec"/><path d="M616.6 316.2 L627.7 313.6 L628.3 328.5 L617 339 Z" fill="#c9c9c9"/><path d="M612 309 L625 313.3 L625 315 L612 311 Z" fill="#777"/><path d="M597.1 307.8 L616.6 316.2 L617 339 L597.8 331.2 Z" fill="#dcdcdc"/><path d="M600.2 312.8 L614 319.2 L614 335.2 L600.4 328.8 Z" fill="#c8d4e8" stroke="#333" stroke-width="0.8"/><ellipse cx="607" cy="323" rx="4" ry="5" fill="#eef2f8"/><path d="M597.1 307.8 L603 305.2 L627.7 313.6 L628.3 328.5 L617 339 L597.8 331.2 Z" fill="none" stroke="#111" stroke-width="1.5" stroke-linejoin="round"/><path d="M597.1 307.8 L616.6 316.2 L617 339 M616.6 316.2 L627.7 313.6" fill="none" stroke="#444" stroke-width="0.8"/><path d="M576.7 347.5 L585.5 341 L610 353.5 L610 355.5 L601 363 L576.7 349.5 Z" fill="#cfcfcf" stroke="#111" stroke-width="1.3" stroke-linejoin="round"/><path d="M577.2 347.6 L585.5 341.4 L609.5 353.6 L601 360.8 Z" fill="#f2f2f2"/><line x1="579.5" y1="345.5" x2="577.2" y2="348.7" stroke="#c0c0c0" stroke-width="0.5"/><line x1="582.2" y1="346.9" x2="579.9" y2="350.1" stroke="#c0c0c0" stroke-width="0.5"/><line x1="584.9" y1="348.3" x2="582.6" y2="351.5" stroke="#c0c0c0" stroke-width="0.5"/><line x1="587.6" y1="349.6" x2="585.3" y2="352.8" stroke="#c0c0c0" stroke-width="0.5"/><line x1="590.3" y1="351.0" x2="588.0" y2="354.2" stroke="#c0c0c0" stroke-width="0.5"/><line x1="593.0" y1="352.4" x2="590.7" y2="355.6" stroke="#c0c0c0" stroke-width="0.5"/><line x1="595.7" y1="353.8" x2="593.4" y2="357.0" stroke="#c0c0c0" stroke-width="0.5"/><line x1="598.4" y1="355.2" x2="596.1" y2="358.4" stroke="#c0c0c0" stroke-width="0.5"/><line x1="601.1" y1="356.5" x2="598.8" y2="359.7" stroke="#c0c0c0" stroke-width="0.5"/><path d="M580 346 L604 358 M582.5 344 L606.5 356" stroke="#c8c8c8" stroke-width="0.5"/></g>
<defs><radialGradient id="lscr" cx="0.5" cy="0.5" r="0.6"><stop offset="0" stop-color="#f6f8fc"/><stop offset="0.6" stop-color="#dbe3f0"/><stop offset="1" stop-color="#b9c6de"/></radialGradient></defs>
<ellipse cx="537" cy="420" rx="9" ry="10" fill="#dcd8dc" filter="url(#sh)"/>
<path d="M481.5 412.3 L499.8 403.1 L530 417.2 L531.4 420.5 L512 434 L482.2 416.5 Z" fill="#c4c4c4" stroke="#111" stroke-width="1.5" stroke-linejoin="round"/>
<path d="M482 412.6 L499.8 403.4 L529.8 417.6 L512 430.8 Z" fill="#ececec"/>
<g transform="matrix(0.3000 0.1450 -0.1780 0.0950 499.80 403.10)"><rect x="4.0" y="6.0" width="8.5" height="15" fill="#fafafa" stroke="#bdbdbd" stroke-width="0.5" vector-effect="non-scaling-stroke"/><rect x="14.5" y="6.0" width="8.5" height="15" fill="#fafafa" stroke="#bdbdbd" stroke-width="0.5" vector-effect="non-scaling-stroke"/><rect x="25.0" y="6.0" width="8.5" height="15" fill="#fafafa" stroke="#bdbdbd" stroke-width="0.5" vector-effect="non-scaling-stroke"/><rect x="35.5" y="6.0" width="8.5" height="15" fill="#fafafa" stroke="#bdbdbd" stroke-width="0.5" vector-effect="non-scaling-stroke"/><rect x="46.0" y="6.0" width="8.5" height="15" fill="#fafafa" stroke="#bdbdbd" stroke-width="0.5" vector-effect="non-scaling-stroke"/><rect x="56.5" y="6.0" width="8.5" height="15" fill="#fafafa" stroke="#bdbdbd" stroke-width="0.5" vector-effect="non-scaling-stroke"/><rect x="67.0" y="6.0" width="8.5" height="15" fill="#fafafa" stroke="#bdbdbd" stroke-width="0.5" vector-effect="non-scaling-stroke"/><rect x="77.5" y="6.0" width="8.5" height="15" fill="#fafafa" stroke="#bdbdbd" stroke-width="0.5" vector-effect="non-scaling-stroke"/><rect x="88.0" y="6.0" width="8.5" height="15" fill="#fafafa" stroke="#bdbdbd" stroke-width="0.5" vector-effect="non-scaling-stroke"/><rect x="4.0" y="24.5" width="8.5" height="15" fill="#fafafa" stroke="#bdbdbd" stroke-width="0.5" vector-effect="non-scaling-stroke"/><rect x="14.5" y="24.5" width="8.5" height="15" fill="#fafafa" stroke="#bdbdbd" stroke-width="0.5" vector-effect="non-scaling-stroke"/><rect x="25.0" y="24.5" width="8.5" height="15" fill="#fafafa" stroke="#bdbdbd" stroke-width="0.5" vector-effect="non-scaling-stroke"/><rect x="35.5" y="24.5" width="8.5" height="15" fill="#fafafa" stroke="#bdbdbd" stroke-width="0.5" vector-effect="non-scaling-stroke"/><rect x="46.0" y="24.5" width="8.5" height="15" fill="#fafafa" stroke="#bdbdbd" stroke-width="0.5" vector-effect="non-scaling-stroke"/><rect x="56.5" y="24.5" width="8.5" height="15" fill="#fafafa" stroke="#bdbdbd" stroke-width="0.5" vector-effect="non-scaling-stroke"/><rect x="67.0" y="24.5" width="8.5" height="15" fill="#fafafa" stroke="#bdbdbd" stroke-width="0.5" vector-effect="non-scaling-stroke"/><rect x="77.5" y="24.5" width="8.5" height="15" fill="#fafafa" stroke="#bdbdbd" stroke-width="0.5" vector-effect="non-scaling-stroke"/><rect x="88.0" y="24.5" width="8.5" height="15" fill="#fafafa" stroke="#bdbdbd" stroke-width="0.5" vector-effect="non-scaling-stroke"/><rect x="4.0" y="43.0" width="8.5" height="15" fill="#fafafa" stroke="#bdbdbd" stroke-width="0.5" vector-effect="non-scaling-stroke"/><rect x="14.5" y="43.0" width="8.5" height="15" fill="#fafafa" stroke="#bdbdbd" stroke-width="0.5" vector-effect="non-scaling-stroke"/><rect x="25.0" y="43.0" width="8.5" height="15" fill="#fafafa" stroke="#bdbdbd" stroke-width="0.5" vector-effect="non-scaling-stroke"/><rect x="35.5" y="43.0" width="8.5" height="15" fill="#fafafa" stroke="#bdbdbd" stroke-width="0.5" vector-effect="non-scaling-stroke"/><rect x="46.0" y="43.0" width="8.5" height="15" fill="#fafafa" stroke="#bdbdbd" stroke-width="0.5" vector-effect="non-scaling-stroke"/><rect x="56.5" y="43.0" width="8.5" height="15" fill="#fafafa" stroke="#bdbdbd" stroke-width="0.5" vector-effect="non-scaling-stroke"/><rect x="67.0" y="43.0" width="8.5" height="15" fill="#fafafa" stroke="#bdbdbd" stroke-width="0.5" vector-effect="non-scaling-stroke"/><rect x="77.5" y="43.0" width="8.5" height="15" fill="#fafafa" stroke="#bdbdbd" stroke-width="0.5" vector-effect="non-scaling-stroke"/><rect x="88.0" y="43.0" width="8.5" height="15" fill="#fafafa" stroke="#bdbdbd" stroke-width="0.5" vector-effect="non-scaling-stroke"/><rect x="4.0" y="61.5" width="8.5" height="15" fill="#fafafa" stroke="#bdbdbd" stroke-width="0.5" vector-effect="non-scaling-stroke"/><rect x="14.5" y="61.5" width="8.5" height="15" fill="#fafafa" stroke="#bdbdbd" stroke-width="0.5" vector-effect="non-scaling-stroke"/><rect x="25.0" y="61.5" width="8.5" height="15" fill="#fafafa" stroke="#bdbdbd" stroke-width="0.5" vector-effect="non-scaling-stroke"/><rect x="35.5" y="61.5" width="8.5" height="15" fill="#fafafa" stroke="#bdbdbd" stroke-width="0.5" vector-effect="non-scaling-stroke"/><rect x="46.0" y="61.5" width="8.5" height="15" fill="#fafafa" stroke="#bdbdbd" stroke-width="0.5" vector-effect="non-scaling-stroke"/><rect x="56.5" y="61.5" width="8.5" height="15" fill="#fafafa" stroke="#bdbdbd" stroke-width="0.5" vector-effect="non-scaling-stroke"/><rect x="67.0" y="61.5" width="8.5" height="15" fill="#fafafa" stroke="#bdbdbd" stroke-width="0.5" vector-effect="non-scaling-stroke"/><rect x="77.5" y="61.5" width="8.5" height="15" fill="#fafafa" stroke="#bdbdbd" stroke-width="0.5" vector-effect="non-scaling-stroke"/><rect x="88.0" y="61.5" width="8.5" height="15" fill="#fafafa" stroke="#bdbdbd" stroke-width="0.5" vector-effect="non-scaling-stroke"/><rect x="4.0" y="80.0" width="8.5" height="15" fill="#fafafa" stroke="#bdbdbd" stroke-width="0.5" vector-effect="non-scaling-stroke"/><rect x="14.5" y="80.0" width="8.5" height="15" fill="#fafafa" stroke="#bdbdbd" stroke-width="0.5" vector-effect="non-scaling-stroke"/><rect x="25.0" y="80.0" width="8.5" height="15" fill="#fafafa" stroke="#bdbdbd" stroke-width="0.5" vector-effect="non-scaling-stroke"/><rect x="35.5" y="80.0" width="8.5" height="15" fill="#fafafa" stroke="#bdbdbd" stroke-width="0.5" vector-effect="non-scaling-stroke"/><rect x="46.0" y="80.0" width="8.5" height="15" fill="#fafafa" stroke="#bdbdbd" stroke-width="0.5" vector-effect="non-scaling-stroke"/><rect x="56.5" y="80.0" width="8.5" height="15" fill="#fafafa" stroke="#bdbdbd" stroke-width="0.5" vector-effect="non-scaling-stroke"/><rect x="67.0" y="80.0" width="8.5" height="15" fill="#fafafa" stroke="#bdbdbd" stroke-width="0.5" vector-effect="non-scaling-stroke"/><rect x="77.5" y="80.0" width="8.5" height="15" fill="#fafafa" stroke="#bdbdbd" stroke-width="0.5" vector-effect="non-scaling-stroke"/><rect x="88.0" y="80.0" width="8.5" height="15" fill="#fafafa" stroke="#bdbdbd" stroke-width="0.5" vector-effect="non-scaling-stroke"/></g>
<path d="M482.2 416.5 L512 434 L531.4 420.5" fill="none" stroke="#111" stroke-width="1.3" stroke-linejoin="round"/>
<path d="M482 413 L512 431 L530 418" fill="none" stroke="#666" stroke-width="0.7"/>
<path d="M507.5 378.5 L539.9 396.1 L530 417.2 L500.5 401 Z" fill="#5a5a5a" stroke="#111" stroke-width="1.5" stroke-linejoin="round"/>
<path d="M508.6 381.2 L538 397 L529 415.4 L502.4 401.2 Z" fill="#d6d6d6"/>
<path d="M509.8 383 L536.6 397.6 L528.4 414.6 L504 401.2 Z" fill="url(#lscr)"/>
<g><ellipse cx="592" cy="431" rx="4.5" ry="6" fill="#dcd8dc" filter="url(#sh)"/><path d="M577.2 408 L578 400.5 C578.3 399 580 399 580.3 400.5 L580.4 409" fill="#ddd" stroke="#111" stroke-width="1.3"/><path d="M576 408 C574 408 573.5 410 573.8 412 L575 431 C575.2 434 580 436.5 585 437 C588.5 437.3 591.5 436 591.5 433 L590.5 414 C590.5 412 589 411.3 587 410.8 Z" fill="#e2e2e2" stroke="#111" stroke-width="1.4" stroke-linejoin="round"/><path d="M577.3 413 L586.8 415.3 L587 421.5 L577.8 419.8 Z" fill="#c9c9c9" stroke="#333" stroke-width="0.8"/><rect x="578.0" y="423.0" width="2" height="1.6" fill="#333"/><rect x="578.0" y="425.6" width="2" height="1.6" fill="#333"/><rect x="578.0" y="428.2" width="2" height="1.6" fill="#333"/><rect x="578.0" y="430.8" width="2" height="1.6" fill="#333"/><rect x="581.0" y="423.6" width="2" height="1.6" fill="#333"/><rect x="581.0" y="426.2" width="2" height="1.6" fill="#333"/><rect x="581.0" y="428.8" width="2" height="1.6" fill="#333"/><rect x="581.0" y="431.4" width="2" height="1.6" fill="#333"/><rect x="584.0" y="424.2" width="2" height="1.6" fill="#333"/><rect x="584.0" y="426.8" width="2" height="1.6" fill="#333"/><rect x="584.0" y="429.4" width="2" height="1.6" fill="#333"/><rect x="584.0" y="432.0" width="2" height="1.6" fill="#333"/></g>
<g>
<path d="M22 409 L22 421 C22 425 37 425 37 421 L37 409 Z" fill="#cddbec" stroke="#222" stroke-width="1.2"/><ellipse cx="29.5" cy="409" rx="7.5" ry="3" fill="#e8eff8" stroke="#222" stroke-width="1.2"/><path d="M24.5 412 L24.5 421" stroke="#f6f9fc" stroke-width="2"/>
<g transform="translate(99.1 415.8)"><circle r="8.3" fill="#2a3ee6" stroke="#111" stroke-width="1.3"/><path d="M-6.5 -3.5 C-5 -6.5 -2 -7.8 1 -7.5 C2 -6 3 -5 2.5 -3.5 C1 -2.5 0 -1 -1 0.5 C-2 1 -3.5 0.5 -4 -0.5 C-5 -1 -6.5 -1 -6.5 -3.5 Z" fill="#22c040"/><path d="M3.5 -3.5 C5 -4 7 -2.5 7.2 -1 C6.5 0.5 5 0.8 4 -0.5 C3 -1.5 3 -2.5 3.5 -3.5 Z" fill="#22c040"/><path d="M-1 1 C0 0.5 1.5 1.5 1.5 3 C1 4.5 0.5 6 -0.5 7 C-1.2 5.5 -1.5 3.5 -1 1 Z" fill="#22c040"/><path d="M-6 2 C-5 4.5 -3 6.5 -1 7.5" fill="none" stroke="#5a70ff" stroke-width="1" opacity="0.7"/></g>
<g transform="translate(164.9 415.2)"><circle r="8.3" fill="#2a3ee6" stroke="#111" stroke-width="1.3"/><path d="M-6.5 -3.5 C-5 -6.5 -2 -7.8 1 -7.5 C2 -6 3 -5 2.5 -3.5 C1 -2.5 0 -1 -1 0.5 C-2 1 -3.5 0.5 -4 -0.5 C-5 -1 -6.5 -1 -6.5 -3.5 Z" fill="#22c040"/><path d="M3.5 -3.5 C5 -4 7 -2.5 7.2 -1 C6.5 0.5 5 0.8 4 -0.5 C3 -1.5 3 -2.5 3.5 -3.5 Z" fill="#22c040"/><path d="M-1 1 C0 0.5 1.5 1.5 1.5 3 C1 4.5 0.5 6 -0.5 7 C-1.2 5.5 -1.5 3.5 -1 1 Z" fill="#22c040"/><path d="M-6 2 C-5 4.5 -3 6.5 -1 7.5" fill="none" stroke="#5a70ff" stroke-width="1" opacity="0.7"/></g><path d="M169.4 419.4 l14.5 0 l0 8.3 l-14.5 0 Z" fill="#f4e78c" stroke="#111" stroke-width="1.2" stroke-linejoin="round"/><path d="M177.7 419.4 l0 8.3" stroke="#333" stroke-width="0.9"/><path d="M170.4 419.1 l4 -5.5 l2.2 1.3 l-3.6 4.4 Z" fill="#f4e78c" stroke="#111" stroke-width="1" stroke-linejoin="round"/>
<g transform="translate(233.1 415.2)"><circle r="8.3" fill="#2a3ee6" stroke="#111" stroke-width="1.3"/><path d="M-6.5 -3.5 C-5 -6.5 -2 -7.8 1 -7.5 C2 -6 3 -5 2.5 -3.5 C1 -2.5 0 -1 -1 0.5 C-2 1 -3.5 0.5 -4 -0.5 C-5 -1 -6.5 -1 -6.5 -3.5 Z" fill="#22c040"/><path d="M3.5 -3.5 C5 -4 7 -2.5 7.2 -1 C6.5 0.5 5 0.8 4 -0.5 C3 -1.5 3 -2.5 3.5 -3.5 Z" fill="#22c040"/><path d="M-1 1 C0 0.5 1.5 1.5 1.5 3 C1 4.5 0.5 6 -0.5 7 C-1.2 5.5 -1.5 3.5 -1 1 Z" fill="#22c040"/><path d="M-6 2 C-5 4.5 -3 6.5 -1 7.5" fill="none" stroke="#5a70ff" stroke-width="1" opacity="0.7"/></g><path d="M237.6 419.4 l14.5 0 l0 8.3 l-14.5 0 Z" fill="#f4e78c" stroke="#111" stroke-width="1.2" stroke-linejoin="round"/><path d="M245.9 419.4 l0 8.3" stroke="#333" stroke-width="0.9"/><path d="M238.6 419.1 l4 -5.5 l2.2 1.3 l-3.6 4.4 Z" fill="#f4e78c" stroke="#111" stroke-width="1" stroke-linejoin="round"/>
<path d="M289.5 411 L308.2 421 L308.2 431.6 L289.5 421.6 Z" fill="#2f9e5a" stroke="#111" stroke-width="1.1"/><path d="M291.5 414 L306.2 422 L306.2 428 L291.5 420 Z" fill="#9fd6b0"/><ellipse cx="299" cy="421" rx="3" ry="3.2" fill="#5fb67e"/>
<path d="M355.5 411 L360 408 L371.4 414 L371.4 424 L366.5 427.9 L355.5 421.5 Z" fill="#f0a060" stroke="#111" stroke-width="1.1" stroke-linejoin="round"/><path d="M355.5 411 L366.5 417 L371.4 414 M366.5 417 L366.5 427.9" fill="none" stroke="#7a3a10" stroke-width="0.8"/><path d="M358 414 L358 420 M361 415.5 L361 421.5 M364 417 L364 423" stroke="#fbe0c8" stroke-width="0.8"/>
</g>
<text x="47.0" y="89.5" font-size="10.0" text-anchor="middle" fill="#3c3c3c" >移动电话</text>
<text x="48.0" y="172.0" font-size="10.0" text-anchor="middle" fill="#3c3c3c" >普通电话</text>
<text x="47.7" y="257.0" font-size="10.0" text-anchor="middle" fill="#3c3c3c" >传真机</text>
<text x="354.5" y="14.0" font-size="10.0" text-anchor="middle" fill="#3c3c3c" >运营商的</text>
<text x="354.5" y="27.5" font-size="10.0" text-anchor="middle" fill="#3c3c3c" >PSTN前置交换机</text>
<text x="472.6" y="32.0" font-size="10.0" text-anchor="middle" fill="#3c3c3c" >普通话机</text>
<text x="448.7" y="109.0" font-size="10.0" text-anchor="middle" fill="#3c3c3c" >模拟/数字</text>
<text x="449.2" y="122.0" font-size="10.0" text-anchor="middle" fill="#3c3c3c" >语音网关</text>
<text x="594.3" y="113.0" font-size="10.0" text-anchor="middle" fill="#3c3c3c" >传真机</text>
<text x="567.2" y="290.5" font-size="10.0" text-anchor="middle" fill="#3c3c3c" >IP电话</text>
<text x="606.5" y="377.5" font-size="10.0" text-anchor="middle" fill="#3c3c3c" >PC</text>
<text x="604.8" y="387.0" font-size="10.0" text-anchor="middle" fill="#3c3c3c" >（MSP终端）</text>
<text x="413.3" y="326.5" font-size="10.0" text-anchor="middle" fill="#3c3c3c" >交换机</text>
<text x="413.3" y="339.5" font-size="10.0" text-anchor="middle" fill="#3c3c3c" >路由器</text>
<text x="413.4" y="352.0" font-size="10.0" text-anchor="middle" fill="#3c3c3c" >CABLE MODEM</text>
<text x="510.9" y="446.0" font-size="10.0" text-anchor="middle" fill="#3c3c3c" >便携计算机</text>
<text x="510.4" y="459.0" font-size="10.0" text-anchor="middle" fill="#3c3c3c" >（MSP终端）</text>
<text x="582.5" y="451.5" font-size="10.0" text-anchor="middle" fill="#3c3c3c" >USB手柄</text>
<text x="22.0" y="438.0" font-size="10.0" text-anchor="middle" fill="#3c3c3c" >数据库</text>
<text x="90.2" y="437.2" font-size="10.0" text-anchor="middle" fill="#3c3c3c" >WEB</text>
<text x="156.0" y="437.2" font-size="10.0" text-anchor="middle" fill="#3c3c3c" >HCA</text>
<text x="224.5" y="437.2" font-size="10.0" text-anchor="middle" fill="#3c3c3c" >GK</text>
<text x="288.6" y="437.2" font-size="10.0" text-anchor="middle" fill="#3c3c3c" >MRP</text>
<text x="357.0" y="437.2" font-size="10.0" text-anchor="middle" fill="#3c3c3c" >MTP</text>
<text x="376.0" y="199.0" font-size="10.0" text-anchor="start" fill="#3c3c3c" >数字中</text>
<text x="376.0" y="213.0" font-size="10.0" text-anchor="start" fill="#3c3c3c" >继网关</text>
<text x="614.5" y="204.0" font-size="6.8" text-anchor="middle" fill="#3c3c3c" >客户处的PBX</text>
<rect x="344.0" y="143.5" width="9.0" height="8.0" fill="#fdf6fd"/>
<text x="348.5" y="150.3" font-size="8.0" text-anchor="middle" fill="#555">E1</text>
<rect x="292.5" y="226.0" width="15.0" height="9.0" fill="#fdf6fd"/>
<text x="300.0" y="232.9" font-size="6.8" text-anchor="middle" fill="#555">光纤</text>
<rect x="330.0" y="262.0" width="28.0" height="26.0" fill="#fdf6fd"/>
<text x="344.0" y="269.9" font-size="6.8" text-anchor="middle" fill="#555">同轴电缆</text>
<text x="344.0" y="277.4" font-size="6.8" text-anchor="middle" fill="#555">网线</text>
<text x="344.0" y="284.9" font-size="6.8" text-anchor="middle" fill="#555">光纤</text>
<rect x="444.9" y="220.4" width="14.0" height="10.0" fill="#fdf6fd"/>
<text x="451.9" y="227.7" font-size="6.6" text-anchor="middle" fill="#555">网线</text>
<rect x="491.6" y="273.1" width="14.0" height="9.0" fill="#fdf6fd"/>
<text x="498.6" y="279.9" font-size="6.6" text-anchor="middle" fill="#555">网线</text>
<rect x="511.3" y="313.3" width="14.0" height="9.0" fill="#fdf6fd"/>
<text x="518.3" y="320.1" font-size="6.6" text-anchor="middle" fill="#555">网线</text>
<rect x="463.7" y="348.2" width="14.0" height="10.0" fill="#fdf6fd"/>
<text x="470.7" y="355.5" font-size="6.6" text-anchor="middle" fill="#555">网线</text>
</svg></body></html>
